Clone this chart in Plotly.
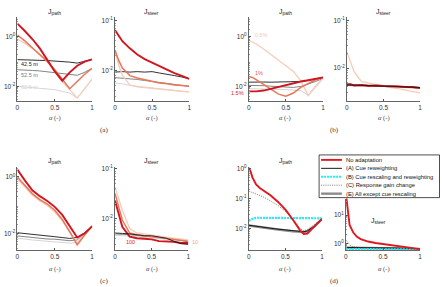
import plotly.graph_objects as go

W, H = 442, 287


def fx(p):
    return p / W


def fy(p):
    return 1 - p / H


ALPHA = [0, 0.05, 0.1, 0.2, 0.3, 0.4, 0.5, 0.6, 0.7, 0.8, 0.9, 1.0]
ALPHA_D = [0, 0.025, 0.05, 0.1, 0.15, 0.2, 0.3, 0.4, 0.5, 0.6, 0.7, 0.75, 0.8, 0.9, 1.0]

# ---------- (a) look-ahead distance ----------
a_path_red = [3.39, 2.51, 1.70, 0.81, 0.339, 0.117, 0.040, 0.017, 0.037, 0.068, 0.100, 0.123]
a_path_orange = [1.17, 0.91, 0.68, 0.363, 0.195, 0.100, 0.047, 0.020, 0.0081, 0.0158, 0.031, 0.054]
a_path_peach = [0.81, 0.68, 0.54, 0.339, 0.195, 0.100, 0.040, 0.0158, 0.0074, 0.0034, 0.0081, 0.020]
a_path_black = [0.120, 0.120, 0.117, 0.115, 0.112, 0.110, 0.107, 0.102, 0.095, 0.087, 0.100, 0.123]
a_path_gray = [0.047, 0.047, 0.046, 0.044, 0.042, 0.039, 0.037, 0.034, 0.030, 0.028, 0.037, 0.054]
a_path_lgray = [0.010, 0.010, 0.0095, 0.0089, 0.0083, 0.0079, 0.0074, 0.0063, 0.0054, 0.0034, 0.0081, 0.020]

a_steer_red = [0.065, 0.049, 0.039, 0.028, 0.021, 0.017, 0.0145, 0.012, 0.0102, 0.0089, 0.0078, 0.0068]
a_steer_orange = [0.026, 0.016, 0.0112, 0.0079, 0.0071, 0.0065, 0.0060, 0.0056, 0.0054, 0.0051, 0.0050, 0.0048]
a_steer_peach = [0.024, 0.0129, 0.0081, 0.0051, 0.0047, 0.0045, 0.0043, 0.0042, 0.0041, 0.0039, 0.0038, 0.0037]
a_steer_black = [0.0093, 0.0095, 0.0095, 0.0093, 0.0095, 0.0093, 0.0095, 0.0089, 0.0085, 0.0079, 0.0074, 0.0068]
a_steer_gray = [0.0072, 0.0071, 0.0071, 0.0068, 0.0066, 0.0063, 0.0060, 0.0058, 0.0055, 0.0052, 0.0050, 0.0048]
a_steer_lgray = [0.0056, 0.0055, 0.0054, 0.0050, 0.0048, 0.0046, 0.0045, 0.0043, 0.0041, 0.0040, 0.0038, 0.0037]

# ---------- (b) noise level ----------
b_path_red = [0.0063, 0.0063, 0.0063, 0.0068, 0.0081, 0.0098, 0.0117, 0.0135, 0.0158, 0.0178, 0.020, 0.023]
b_path_orange = [0.025, 0.023, 0.0186, 0.0117, 0.0074, 0.0049, 0.0040, 0.0054, 0.0091, 0.0135, 0.0186, 0.023]
b_path_peach = [0.74, 0.63, 0.51, 0.32, 0.195, 0.117, 0.068, 0.040, 0.017, 0.0043, 0.010, 0.021]
b_path_black = [0.0148, 0.0150, 0.0148, 0.0150, 0.0148, 0.0150, 0.0148, 0.0150, 0.0158, 0.0174, 0.0195, 0.023]
b_path_gray = [0.011, 0.011, 0.011, 0.0107, 0.0102, 0.010, 0.0098, 0.0091, 0.010, 0.0123, 0.0158, 0.021]
b_path_lgray = [0.0081, 0.0081, 0.0081, 0.0081, 0.0078, 0.0076, 0.0074, 0.0071, 0.0068, 0.0044, 0.011, 0.021]

b_steer_red = [0.0045, 0.0046, 0.0043, 0.0044, 0.0042, 0.0043, 0.0042, 0.0042, 0.0041, 0.0040, 0.0040, 0.0038]
b_steer_orange = [0.0046, 0.0045, 0.0044, 0.0044, 0.0043, 0.0043, 0.0042, 0.0041, 0.0041, 0.0040, 0.0039, 0.0038]
b_steer_peach = [0.022, 0.0132, 0.0083, 0.0052, 0.0048, 0.0045, 0.0042, 0.0039, 0.0037, 0.0035, 0.0032, 0.0030]
b_steer_black = [0.0044, 0.0044, 0.0044, 0.0043, 0.0043, 0.0042, 0.0042, 0.0041, 0.0041, 0.0040, 0.0039, 0.0039]
b_steer_gray = [0.0043, 0.0043, 0.0043, 0.0042, 0.0042, 0.0042, 0.0041, 0.0041, 0.0040, 0.0040, 0.0039, 0.0038]
b_steer_lgray = [0.0043, 0.0042, 0.0042, 0.0042, 0.0041, 0.0041, 0.0041, 0.0040, 0.0040, 0.0039, 0.0038, 0.0037]

# ---------- (c) gain ----------
c_path_red = [1.82, 1.15, 0.76, 0.339, 0.209, 0.141, 0.087, 0.045, 0.0174, 0.0071, 0.010, 0.018]
c_path_orange = [1.0, 0.72, 0.51, 0.257, 0.158, 0.110, 0.066, 0.031, 0.0115, 0.0039, 0.0087, 0.018]
c_path_peach = [0.81, 0.60, 0.45, 0.224, 0.141, 0.098, 0.058, 0.028, 0.0105, 0.0045, 0.0095, 0.018]
c_path_black = [0.0105, 0.0102, 0.010, 0.0095, 0.0087, 0.0081, 0.0076, 0.0071, 0.0066, 0.0072, 0.0105, 0.018]
c_path_gray = [0.0081, 0.0078, 0.0076, 0.0071, 0.0066, 0.0063, 0.0062, 0.0058, 0.0055, 0.0058, 0.010, 0.018]
c_path_lgray = [0.0066, 0.0065, 0.0063, 0.0058, 0.0055, 0.0052, 0.0049, 0.0047, 0.0045, 0.0047, 0.0095, 0.018]

c_steer_red = [0.023, 0.0117, 0.0068, 0.0043, 0.0040, 0.0039, 0.0038, 0.0035, 0.0035, 0.0034, 0.0032, 0.0032]
c_steer_orange = [0.032, 0.017, 0.0093, 0.0051, 0.0047, 0.0045, 0.0043, 0.0041, 0.0040, 0.0038, 0.0037, 0.0035]
c_steer_peach = [0.043, 0.025, 0.0148, 0.0063, 0.0051, 0.0049, 0.0046, 0.0044, 0.0042, 0.0040, 0.0038, 0.0037]
c_steer_black = [0.0051, 0.0051, 0.0050, 0.0049, 0.0047, 0.0045, 0.0045, 0.0043, 0.0040, 0.0035, 0.0031, 0.0030]
c_steer_gray = [0.0049, 0.0049, 0.0048, 0.0047, 0.0045, 0.0044, 0.0043, 0.0042, 0.0040, 0.0038, 0.0036, 0.0034]
c_steer_lgray = [0.0046, 0.0046, 0.0045, 0.0044, 0.0043, 0.0042, 0.0041, 0.0040, 0.0039, 0.0037, 0.0036, 0.0034]

# ---------- (d) adaptation mechanisms ----------
d_path_none = [1.07, 0.83, 0.52, 0.30, 0.229, 0.19, 0.129, 0.078, 0.043, 0.020, 0.0087, 0.0065, 0.0068, 0.012, 0.021]
d_path_A = [0.0129, 0.0126, 0.0123, 0.0117, 0.0115, 0.0107, 0.0102, 0.0095, 0.0091, 0.0083, 0.0079, 0.0078, 0.0083, 0.0123, 0.021]
d_path_B = [0.018, 0.020, 0.021, 0.023, 0.023, 0.023, 0.023, 0.023, 0.023, 0.023, 0.023, 0.023, 0.023, 0.022, 0.022]
d_path_C = [0.18, 0.17, 0.162, 0.148, 0.129, 0.115, 0.083, 0.059, 0.038, 0.021, 0.010, 0.0083, 0.0093, 0.0138, 0.021]
d_path_E = [0.0126, 0.0123, 0.012, 0.0115, 0.0112, 0.0105, 0.010, 0.0093, 0.0089, 0.0081, 0.0077, 0.0076, 0.0081, 0.012, 0.021]

d_steer_none = [60, 12, 4.5, 2.4, 1.7, 1.4, 1.15, 1.02, 0.93, 0.85, 0.78, 0.75, 0.72, 0.67, 0.62]
d_steer_A = [0.71, 0.71, 0.71, 0.71, 0.71, 0.70, 0.70, 0.69, 0.69, 0.68, 0.67, 0.66, 0.66, 0.64, 0.62]
d_steer_B = [0.62, 0.62, 0.62, 0.62, 0.61, 0.61, 0.61, 0.61, 0.60, 0.60, 0.60, 0.60, 0.60, 0.60, 0.60]
d_steer_C = [1.32, 1.1, 0.88, 0.74, 0.71, 0.70, 0.69, 0.68, 0.68, 0.67, 0.66, 0.65, 0.65, 0.64, 0.62]
d_steer_E = [0.69, 0.69, 0.69, 0.69, 0.69, 0.68, 0.68, 0.68, 0.67, 0.67, 0.66, 0.65, 0.65, 0.63, 0.62]

X_TICKS = [0, 0.5, 1]
X_TICK_TEXT = ["0", "0.5", "1"]
Y_TICK_TEXT = {10: "10<sup>1</sup>", 1: "10<sup>0</sup>", 0.1: "10<sup>-1</sup>", 0.01: "10<sup>-2</sup>"}
LEGEND_NAMES = ["No adaptation", "(A) Cue reweighting", "(B) Cue rescaling and reweighting",
                "(C) Response gain change", "(E) All except cue rescaling"]

# colours / styles
RED = "rgb(208,22,32)"
ORANGE = "rgb(234,118,88)"
PEACH = "rgb(247,203,184)"
BLACK = "rgb(25,25,25)"
GRAY = "rgb(118,118,118)"
LGRAY = "rgb(208,208,208)"
FAM = {
    "lgray": (LGRAY, 0.9), "gray": (GRAY, 0.9), "black": (BLACK, 0.9),
    "peach": (PEACH, 1.3), "orange": (ORANGE, 1.5), "red": (RED, 1.9),
}
RED_D = "rgb(222,24,30)"
CYAN = "rgb(40,232,244)"
DOT = "rgb(70,70,70)"
GRAY_E = "rgb(140,140,140)"
# legend styles: (colour, width, dash) in the order of LEGEND_NAMES
LEGEND_STYLE = [(RED_D, 1.9, "solid"), (BLACK, 1.0, "solid"), (CYAN, 2.2, "2px,1px"),
                (DOT, 0.7, "1px,1.2px"), (GRAY_E, 2.4, "solid")]

# panel geometry (pixels) and log ranges
panels = {
    1: dict(xd=(15.5, 91), yd=(15, 100), yr=(-2.6, 0.8), tv=[1, 0.01]),
    2: dict(xd=(114, 189), yd=(15, 100), yr=(-2.62, -0.92), tv=[0.1, 0.01]),
    3: dict(xd=(249, 324), yd=(15, 100), yr=(-2.6, 0.8), tv=[1, 0.01]),
    4: dict(xd=(348, 422), yd=(15, 100), yr=(-2.7, -0.92), tv=[0.1, 0.01]),
    5: dict(xd=(15.5, 91), yd=(166, 250), yr=(-2.6, 0.36), tv=[1, 0.01]),
    6: dict(xd=(114, 188), yd=(166, 250), yr=(-2.64, -0.96), tv=[0.1, 0.01]),
    7: dict(xd=(249, 323), yd=(166, 250), yr=(-2.73, 0.07), tv=[1, 0.1, 0.01]),
    8: dict(xd=(347, 422), yd=(198, 250), yr=(-0.25, 1.59), tv=[10, 1]),
}

fig = go.Figure()


def ax(k):
    return ("x" if k == 1 else f"x{k}"), ("y" if k == 1 else f"y{k}")


def add(k, x, y, color, width, dash="solid", name=""):
    xa, ya = ax(k)
    fig.add_trace(go.Scatter(
        x=x, y=y, mode="lines", xaxis=xa, yaxis=ya,
        line=dict(color=color, width=width, dash=dash),
        name=name, showlegend=False, hoverinfo="skip"))


family_sets = {
    1: [a_path_lgray, a_path_gray, a_path_black, a_path_peach, a_path_orange, a_path_red],
    2: [a_steer_lgray, a_steer_gray, a_steer_black, a_steer_peach, a_steer_orange, a_steer_red],
    3: [b_path_lgray, b_path_gray, b_path_black, b_path_peach, b_path_orange, b_path_red],
    4: [b_steer_lgray, b_steer_gray, b_steer_peach, b_steer_orange, b_steer_red, b_steer_black],
    5: [c_path_lgray, c_path_gray, c_path_black, c_path_peach, c_path_orange, c_path_red],
    6: [c_steer_lgray, c_steer_gray, c_steer_peach, c_steer_orange, c_steer_red, c_steer_black],
}
family_order = {
    1: ["lgray", "gray", "black", "peach", "orange", "red"],
    2: ["lgray", "gray", "black", "peach", "orange", "red"],
    3: ["lgray", "gray", "black", "peach", "orange", "red"],
    4: ["lgray", "gray", "peach", "orange", "red", "black"],
    5: ["lgray", "gray", "black", "peach", "orange", "red"],
    6: ["lgray", "gray", "peach", "orange", "red", "black"],
}
for k, series in family_sets.items():
    for fam, ys in zip(family_order[k], series):
        c, w = FAM[fam]
        add(k, ALPHA, ys, c, w)

for k, (none, A, B, C, E) in {7: (d_path_none, d_path_A, d_path_B, d_path_C, d_path_E),
                             8: (d_steer_none, d_steer_A, d_steer_B, d_steer_C, d_steer_E)}.items():
    for idx, ys in [(4, E), (1, A), (3, C), (2, B), (0, none)]:
        c, w, d = LEGEND_STYLE[idx]
        add(k, ALPHA_D, ys, c, w, dash=d, name=LEGEND_NAMES[idx])

minor_vals = [m * 10.0 ** e for e in range(-4, 3) for m in range(2, 10)]
layout = {}
for k, p in panels.items():
    xs = "xaxis" if k == 1 else f"xaxis{k}"
    ys = "yaxis" if k == 1 else f"yaxis{k}"
    xa, ya = ax(k)
    layout[xs] = dict(domain=[fx(p["xd"][0]), fx(p["xd"][1])], anchor=ya, range=[0, 1],
                      tickmode="array", tickvals=X_TICKS, ticktext=X_TICK_TEXT,
                      ticks="inside", ticklen=2, tickwidth=0.6, tickcolor="#555",
                      showline=True, linecolor="#666", linewidth=0.7,
                      showgrid=False, zeroline=False,
                      tickfont=dict(size=6.5, color="#333"))
    layout[ys] = dict(domain=[fy(p["yd"][1]), fy(p["yd"][0])], anchor=xa, type="log",
                      range=list(p["yr"]), tickmode="array", tickvals=p["tv"],
                      ticktext=[Y_TICK_TEXT[v] for v in p["tv"]],
                      ticks="inside", ticklen=2, tickwidth=0.6, tickcolor="#555",
                      minor=dict(ticks="inside", ticklen=1, tickwidth=0.4, tickcolor="#999",
                                 tickmode="array", tickvals=minor_vals, showgrid=False),
                      showline=True, linecolor="#666", linewidth=0.7,
                      showgrid=False, zeroline=False,
                      tickfont=dict(size=6.5, color="#333"))

annotations = []
shapes = []


def note(text, x, y, size=7, color="#222", family="Liberation Sans", xanchor="center"):
    annotations.append(dict(text=text, x=fx(x), y=fy(y), xref="paper", yref="paper",
                            showarrow=False, xanchor=xanchor, yanchor="middle",
                            font=dict(size=size, color=color, family=family)))


# titles
for (x, y, t) in [(53, 10, "path"), (151, 10, "steer"), (286, 10, "path"), (385, 10, "steer"),
                  (53, 160, "path"), (151, 160, "steer"), (286, 160, "path"), (380, 221, "steer")]:
    note(f"J<sub>{t}</sub>", x, y, size=7)

# x axis titles
for (x, y) in [(53, 117), (151, 117), (286, 117), (385, 117),
               (53, 269), (151, 269), (286, 269), (385, 269)]:
    note("<i>α</i> (-)", x, y, size=6.5, color="#444", family="Liberation Serif")

# panel letters
for (x, y, t) in [(103, 129, "(a)"), (336, 129, "(b)"), (103, 281, "(c)"), (336, 281, "(d)")]:
    note(t, x, y, size=7, color="#333", family="Liberation Serif")

# curve labels
note("42.5 m", 17, 62, size=5.5, color=BLACK, xanchor="left")
note("52.5 m", 17, 74, size=5.5, color="rgb(120,120,120)", xanchor="left")
note("62.5 m", 17, 86, size=5.5, color="rgb(215,215,215)", xanchor="left")
note("0.5%", 253, 33, size=5.5, color="rgb(245,200,185)", xanchor="left")
note("1%", 253, 71, size=5.5, color="rgb(232,85,95)", xanchor="left")
note("1.5%", 229, 92, size=5.5, color="rgb(222,30,45)", xanchor="left")
note("100", 123, 242, size=5.5, color="rgb(222,30,40)", xanchor="left")
note("10", 190, 242, size=5.5, color="rgb(242,165,160)", xanchor="left")

# legend box for panel (d)
shapes.append(dict(type="rect", xref="paper", yref="paper", x0=fx(320), x1=fx(441.5),
                   y0=fy(197), y1=fy(154), fillcolor="white",
                   line=dict(color="black", width=0.7), layer="above"))
for i, (name, (c, w, d)) in enumerate(zip(LEGEND_NAMES, LEGEND_STYLE)):
    ry = 159 + i * 8.5
    shapes.append(dict(type="line", xref="paper", yref="paper", x0=fx(322), x1=fx(343),
                       y0=fy(ry), y1=fy(ry), line=dict(color=c, width=w, dash=d), layer="above"))
    note(name, 345, ry, size=5.8, color="#111", xanchor="left")

fig.update_layout(
    width=W, height=H, margin=dict(l=0, r=0, t=0, b=0),
    paper_bgcolor="white", plot_bgcolor="white",
    font=dict(family="Liberation Sans", size=6.5, color="#333"),
    annotations=annotations, shapes=shapes, showlegend=False,
    **layout,
)

fig.write_html("out.html")
